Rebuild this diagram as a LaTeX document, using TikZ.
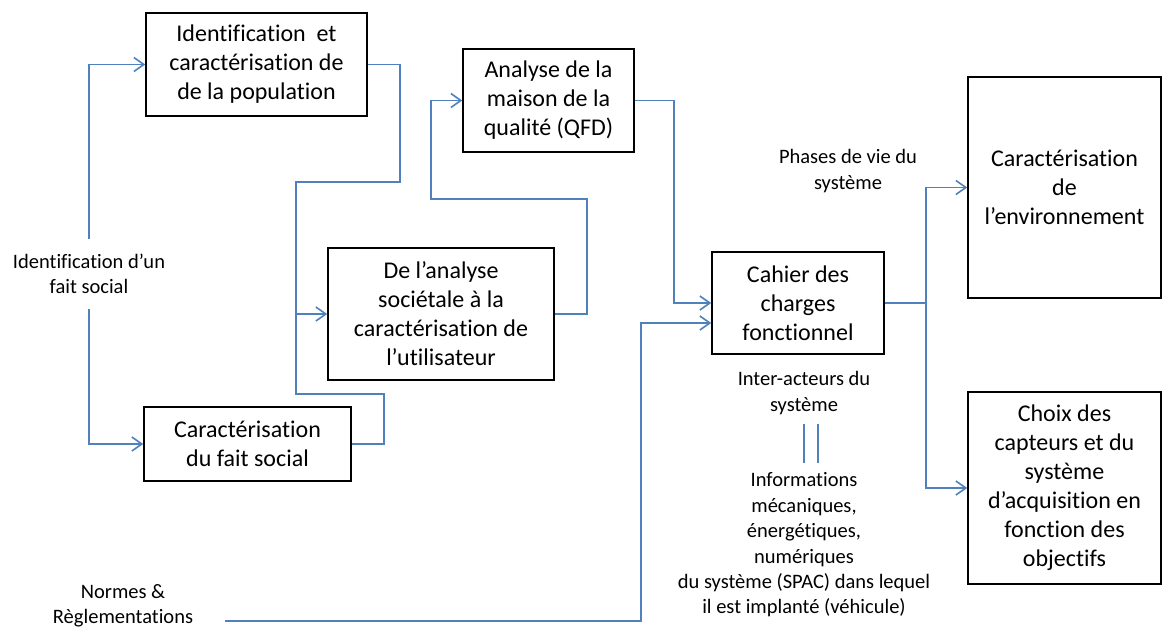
\documentclass[tikz,border=0pt]{standalone}
\usepackage{fontspec}
\setmainfont{Carlito}[Ligatures={NoCommon},RawFeature={-liga;-clig;-dlig}]
\usetikzlibrary{arrows.meta}
\definecolor{linkblue}{RGB}{79,129,189}
\tikzset{
  box/.style={draw=black, line width=1.5pt, fill=white, align=center, inner sep=0pt,
    font=\fontsize{24}{29}\selectfont},
  lbl/.style={align=center, inner sep=0pt, font=\fontsize{20.5}{25.4}\selectfont},
  conn/.style={draw=linkblue, line width=1.6pt},
  arr/.style={conn, -{Straight Barb[length=10pt,width=14pt,line width=1.6pt]}}
}
\begin{document}
\begin{tikzpicture}[x=1pt,y=-1pt]
\useasboundingbox (0,0) rectangle (1162,627);
% boxes
\node[box, minimum width=221pt, minimum height=103pt] (b1) at (256.5,64.5) {Identification\ \ et\\caractérisation de\\de la population};
\node[box, minimum width=171pt, minimum height=103pt] (b2) at (548.5,100.5) {Analyse de la\\maison de la\\qualité (QFD)};
\node[box, minimum width=226pt, minimum height=132pt] (b3) at (441,314) {De l’analyse\\sociétale à la\\caractérisation de\\l’utilisateur};
\node[box, minimum width=207pt, minimum height=74pt] (b4) at (247.5,444) {Caractérisation\\du fait social};
\node[box, minimum width=172pt, minimum height=102pt] (b5) at (798,303) {Cahier des\\charges\\fonctionnel};
\node[box, minimum width=193pt, minimum height=221pt] (b6) at (1064.5,187.5) {Caractérisation\\de\\l’environnement};
\node[box, minimum width=193pt, minimum height=192pt] (b7) at (1064.5,488) {Choix des\\capteurs et du\\système\\d’acquisition en\\fonction des\\objectifs};
% labels
\node[lbl, minimum height=70pt] (fs) at (89,274) {Identification d’un\\fait social};
\node[lbl] (normes) at (123,606) {Normes \&\\Règlementations};
\node[lbl] (phases) at (848,171) {Phases de vie du\\système};
\node[lbl] (inter) at (804,393) {Inter-acteurs du\\système};
\node[lbl] (info) at (804,545) {Informations\\mécaniques,\\énergétiques,\\numériques\\du système (SPAC) dans lequel\\il est implanté (véhicule)};
\coordinate (nstart) at (225,621);
\coordinate (split) at (926,303);
\coordinate (eqa) at (804,424);
\coordinate (eqb) at (804,463);
% connectors
\draw[arr] (fs.north) |- (b1.west);
\draw[arr] (fs.south) |- (b4.west);
\draw[arr] (b1.east) -- ++(32,0) |- (296,182) |- (b3.west);
\draw[conn] (b4.east) -- ++(32,0) |- (296,394) -- (296,313);
\draw[arr] (b3.east) -- ++(32,0) |- (431,199) |- (b2.west);
\draw[arr] (b2.east) -- ++(39,0) |- (b5.west);
\draw[arr] (nstart) -| (641,323) -- ([yshift=-20pt]b5.west);
\draw[conn] (b5.east) -- (split);
\draw[arr] (split) |- (b6.west);
\draw[arr] (split) |- (b7.west);
\draw[conn] (eqa) -- (eqb);
\draw[conn] ([xshift=14pt]eqa) -- ([xshift=14pt]eqb);
\end{tikzpicture}
\end{document}
